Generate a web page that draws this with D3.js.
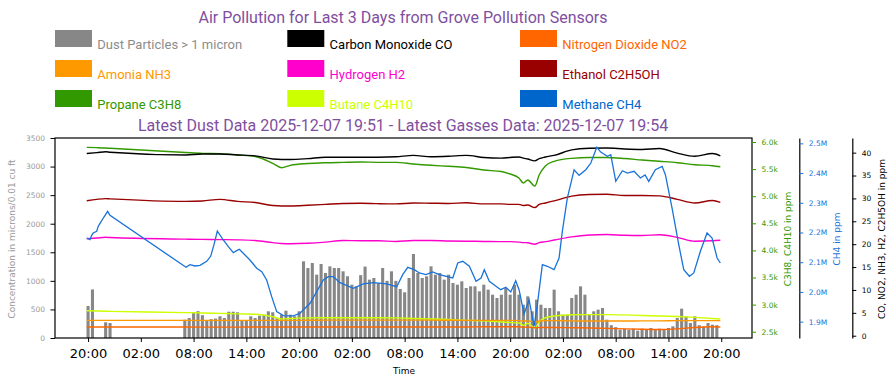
<!DOCTYPE html>
<html>
<head>
<meta charset="utf-8">
<script src="https://cdn.jsdelivr.net/npm/d3@7"></script>
<style>
  body { margin: 0; background: #fff; }
</style>
</head>
<body>
<div id="chart"></div>
<script>

// ---- data ----
// all times are hours after 2025-12-04 20:00
var baseTime = new Date(2025, 11, 4, 20, 0, 0);

var titleText = 'Air Pollution for Last 3 Days from Grove Pollution Sensors';
var subtitleText = 'Latest Dust Data 2025-12-07 19:51 - Latest Gasses Data: 2025-12-07 19:54';

// gas sensor readings (smooth series)
var gasHours = [-0.15, 1, 2, 2.5, 11.1, 13, 15, 17, 19, 21, 22, 23, 25, 27, 29, 31, 33, 35, 37, 39, 41,
                43, 45, 47, 48, 49, 49.5, 50, 50.8, 51.3, 52, 53, 55, 57, 59, 61, 63, 65, 67, 69, 71, 71.9];

var coPpm = [39.8, 40.0, 40.2, 40.1, 39.5, 39.7, 39.7, 39.5, 39.3, 38.6, 38.5, 38.5, 38.7, 39.0, 39.0, 39.0,
             39.0, 39.1, 39.4, 39.1, 39.2, 39.4, 38.95, 38.8, 38.95, 39.05, 38.8, 38.6, 38.2, 38.7, 39.05,
             39.4, 40.6, 40.95, 41.0, 40.8, 40.7, 40.9, 39.9, 39.2, 39.8, 39.3];

var no2Ppm = [1.9, 1.9, 1.9, 1.9, 1.9, 1.88, 1.88, 1.88, 1.9, 1.9, 1.9, 1.9, 1.9, 1.9, 1.9, 1.9,
              1.9, 1.9, 1.9, 1.9, 1.9, 1.9, 1.95, 1.95, 1.95, 1.95, 1.85, 1.9, 1.75, 1.8, 1.8,
              1.8, 1.75, 1.7, 1.6, 1.5, 1.4, 1.35, 1.5, 1.8, 1.95, 1.9];

var nh3Ppm = [3.35, 3.35, 3.35, 3.35, 3.35, 3.35, 3.35, 3.35, 3.35, 3.35, 3.35, 3.35, 3.37, 3.4, 3.4, 3.4,
              3.4, 3.4, 3.4, 3.4, 3.38, 3.35, 3.35, 3.35, 3.35, 3.3, 3.2, 3.25, 3.0, 3.2, 3.3,
              3.3, 3.25, 3.2, 3.2, 3.2, 3.25, 3.25, 3.3, 3.3, 3.3, 3.3];

var h2Ppm = [21.2, 21.35, 21.5, 21.45, 21.1, 21.05, 21.0, 20.95, 20.8, 20.35, 20.15, 20.1, 20.2, 20.45, 20.8, 20.75,
             20.75, 20.6, 20.8, 20.8, 20.7, 20.65, 20.6, 20.55, 20.55, 20.45, 20.35, 20.3, 20.0, 20.35, 20.55,
             20.9, 21.6, 22.0, 22.1, 21.95, 21.9, 22.05, 21.5, 20.65, 20.75, 20.85];

var ethanolPpm = [29.5, 29.8, 29.95, 29.9, 29.35, 29.45, 29.8, 29.35, 29.1, 28.45, 28.35, 28.35, 28.5, 28.7, 28.9, 28.95,
                  28.85, 28.8, 29.0, 28.95, 28.9, 29.05, 28.8, 28.8, 28.7, 28.7, 28.45, 28.55, 28.0, 28.7, 29.0,
                  29.45, 30.5, 30.85, 30.9, 30.65, 30.65, 30.55, 29.8, 29.0, 29.55, 29.15];

var propanePpm = [5902, 5896, 5889, 5884, 5806, 5791, 5784, 5760, 5732, 5607, 5526, 5570, 5603, 5618, 5625, 5631,
                  5625, 5625, 5594, 5570, 5552, 5530, 5483, 5456, 5410, 5336, 5244, 5299, 5188, 5391, 5557,
                  5644, 5699, 5714, 5714, 5696, 5668, 5644, 5618, 5581, 5563, 5544];

var butanePpm = [2887, 2882, 2878, 2876, 2852, 2845, 2838, 2830, 2823, 2775, 2735, 2745, 2755, 2758, 2758, 2758,
                 2758, 2755, 2745, 2735, 2725, 2710, 2700, 2680, 2670, 2660, 2618, 2655, 2563, 2684, 2758,
                 2790, 2812, 2815, 2815, 2810, 2800, 2790, 2780, 2765, 2745, 2735];

// methane is noisy, so it has its own denser readings
var ch4Hours = [-0.16, 0.22, 0.41, 0.59, 0.98, 1.16, 1.73, 2.23, 2.49, 11.14, 11.59, 12.16, 12.73, 13.49, 13.94,
                14.32, 14.7, 15.38, 15.95, 16.52, 16.9, 17.2, 17.65, 18.41, 19.18, 19.75, 20.31, 20.88, 21.45,
                22.2, 23.34, 24.1, 25.24, 26.0, 26.75, 27.32, 27.89, 28.65, 30.16, 31.3, 32.44, 33.96, 35.1,
                35.78, 36.35, 37.1, 37.67, 38.43, 39.19, 39.95, 41.47, 42.04, 42.61, 43.36, 44.12, 44.69, 45.06,
                45.63, 46.39, 46.93, 47.5, 48.07, 48.63, 49.01, 49.58, 50.15, 50.72, 51.09, 51.66, 52.23, 52.99,
                53.56, 53.93, 54.5, 55.27, 55.84, 56.6, 57.17, 57.85, 58.3, 59.05, 59.44, 60.01, 60.76, 61.33,
                62.09, 62.81, 63.34, 63.76, 64.51, 65.28, 65.65, 66.41, 67.17, 67.74, 68.38, 68.88, 69.63, 70.39,
                70.96, 71.53, 71.9];

var ch4Ppm = [2181500, 2175800, 2190600, 2198300, 2204000, 2220800, 2248700, 2271300, 2257800, 2083000, 2091700,
              2087300, 2089700, 2103100, 2119900, 2159000, 2205000, 2174800, 2152200, 2132000, 2138800, 2143500,
              2130000, 2107500, 2079600, 2068200, 2040200, 1984100, 1933600, 1920200, 1919200, 1928200, 1961900,
              2000900, 2040200, 2051300, 2051300, 2031200, 2012300, 2026800, 2031200, 2026800, 2017700, 2058100,
              2082900, 2074900, 2063800, 2058100, 2067100, 2058100, 2047000, 2097400, 2103100, 2086300, 2035900,
              2047000, 2074900, 2035900, 2019000, 2007600, 2015700, 1999900, 2037900, 2007600, 1925900, 1974000,
              1884500, 1957200, 2091700, 2086300, 2074900, 2114200, 2204000, 2316000, 2411200, 2392300, 2411200,
              2433700, 2486500, 2470700, 2456200, 2461600, 2372200, 2407800, 2400100, 2405800, 2383300, 2393400,
              2372200, 2411200, 2422600, 2394400, 2282400, 2159000, 2074900, 2052700, 2063800, 2136800, 2198300,
              2181500, 2114200, 2097400];

// dust particle counts, one every half hour starting 20:00 (null = no reading)
var dustCounts = [
  560, 850, null, null, 275, 262, null, null, null, null,
  null, null, null, null, null, null, null, null, null, null,
  null, null, 320, 350, 450, 470, 400, 300, 330, 340,
  380, 350, 460, 460, 450, 300, 300, 380, 350, 390,
  408, 467, 450, 350, 408, 478, 408, 380, 467, 1342,
  1225, 1312, 1108, 1295, 1138, 1254, 1225, 1225, 1167, 1080,
  933, 904, 1100, 1250, 1021, 1050, 963, 1225, 1000, 1167,
  1000, 858, 800, 1050, 1470, 1138, 1050, 1080, 1254, 1108,
  1138, 1021, 1108, 963, 933, 992, 875, 904, 904, 817,
  933, 846, 758, 700, 758, 875, 758, 933, 758, 583,
  729, 467, 671, 583, 525, 525, 846, 467, 408, 408,
  700, 758, 904, 758, 408, 467, 496, 525, 321, 224,
  190, 146, 163, 146, 163, 128, 163, 146, 175, 146,
  163, 146, 175, 204, 350, 513, 379, 262, 379, 224,
  204, 262, 233, 224
];
var dustStepHours = 0.5;

var xTickHours = [0, 6, 12, 18, 24, 30, 36, 42, 48, 54, 60, 66, 72];
var dustTicks = [0, 500, 1000, 1500, 2000, 2500, 3000, 3500];
var c3Ticks = [2500, 3000, 3500, 4000, 4500, 5000, 5500, 6000];
var ch4Ticks = [1900000, 2000000, 2100000, 2200000, 2300000, 2400000, 2500000];
var gasTicks = [0, 5, 10, 15, 20, 25, 30, 35, 40];

var legendNames = ['Dust Particles > 1 micron', 'Carbon Monoxide CO', 'Nitrogen Dioxide NO2',
                   'Amonia NH3', 'Hydrogen H2', 'Ethanol C2H5OH',
                   'Propane C3H8', 'Butane C4H10', 'Methane CH4'];
var legendColors = ['#878787', '#000000', '#ff6600',
                    '#ff9900', '#ff00cc', '#990000',
                    '#339900', '#ccff00', '#0066cc'];


// ---- drawing ----
function hoursToDate(h){
  return new Date(baseTime.getTime() + h * 3600 * 1000);
}

function draw_chart(){

  var width = 896, height = 385;
  var plot = {left: 55, right: 752, top: 138, bottom: 338};
  var tick_font = 'DejaVu Sans';

  var svg = d3.select('#chart').append('svg')
    .attr('width', width)
    .attr('height', height);

  // scales
  var x = d3.scaleTime()
    .domain([hoursToDate(-3.76), hoursToDate(75.5)])
    .range([plot.left, plot.right]);

  var yDust = d3.scaleLinear().domain([0, 3500]).range([plot.bottom, plot.top]);
  var yC3 = d3.scaleLinear().domain([2384, 6074]).range([plot.bottom, plot.top]);
  var yCh4 = d3.scaleLinear().domain([1845000, 2518000]).range([plot.bottom, plot.top]);
  var yGas = d3.scaleLinear().domain([-0.5, 43.2]).range([plot.bottom, plot.top]);

  // dust bars
  var stepPx = x(hoursToDate(dustStepHours)) - x(hoursToDate(0));
  var barW = stepPx * 0.7;

  svg.append('g').attr('class', 'dust')
    .selectAll('rect')
    .data(dustCounts.map(function(v, i){ return {t: hoursToDate(i * dustStepHours), v: v}; })
                    .filter(function(d){ return d.v !== null; }))
    .enter()
    .append('rect')
    .attr('x', function(d){ return x(d.t) - barW / 2; })
    .attr('y', function(d){ return yDust(d.v); })
    .attr('width', barW)
    .attr('height', function(d){ return yDust(0) - yDust(d.v); })
    .style('fill', '#878787');

  // gas lines
  var gasLines = [
    {values: propanePpm, scale: yC3, color: '#339900'},
    {values: butanePpm, scale: yC3, color: '#ccff00'},
    {values: coPpm, scale: yGas, color: '#000000'},
    {values: ethanolPpm, scale: yGas, color: '#990000'},
    {values: h2Ppm, scale: yGas, color: '#ff00cc'},
    {values: nh3Ppm, scale: yGas, color: '#ff9900'},
    {values: no2Ppm, scale: yGas, color: '#ff6600'}
  ];

  gasLines.forEach(function(s){
    var pts = gasHours.map(function(h, i){ return {t: hoursToDate(h), v: s.values[i]}; });
    var line = d3.line()
      .x(function(d){ return x(d.t); })
      .y(function(d){ return s.scale(d.v); })
      .curve(d3.curveMonotoneX);
    svg.append('path')
      .datum(pts)
      .attr('d', line)
      .style('fill', 'none')
      .style('stroke', s.color)
      .style('stroke-width', 1.4);
  });

  // methane line
  var ch4Pts = ch4Hours.map(function(h, i){ return {t: hoursToDate(h), v: ch4Ppm[i]}; });
  svg.append('path')
    .datum(ch4Pts)
    .attr('d', d3.line()
      .x(function(d){ return x(d.t); })
      .y(function(d){ return yCh4(d.v); }))
    .style('fill', 'none')
    .style('stroke', '#1a73d9')
    .style('stroke-width', 1.3);

  // plot frame
  svg.append('rect')
    .attr('x', plot.left)
    .attr('y', plot.top)
    .attr('width', plot.right - plot.left)
    .attr('height', plot.bottom - plot.top)
    .style('fill', 'none')
    .style('stroke', '#000')
    .style('stroke-width', 1.2);

  // x axis
  var xAxis = svg.append('g')
    .attr('transform', 'translate(0,' + plot.bottom + ')')
    .call(d3.axisBottom(x)
      .tickValues(xTickHours.map(hoursToDate))
      .tickFormat(d3.timeFormat('%H:%M'))
      .tickSize(4)
      .tickPadding(7)
      .tickSizeOuter(0));
  xAxis.select('.domain').remove();
  xAxis.selectAll('text')
    .attr('font-family', tick_font)
    .attr('font-size', '13px')
    .style('fill', '#000');

  svg.append('text')
    .text('Time')
    .attr('x', 404)
    .attr('y', 374)
    .attr('text-anchor', 'middle')
    .attr('font-family', tick_font)
    .attr('font-size', '9px')
    .style('fill', '#000');

  // left (dust) axis
  var leftAxis = svg.append('g')
    .attr('transform', 'translate(' + plot.left + ',0)')
    .call(d3.axisLeft(yDust).tickValues(dustTicks).tickFormat(d3.format('d'))
      .tickSize(4.5).tickPadding(5.5).tickSizeOuter(0));
  leftAxis.select('.domain').remove();
  leftAxis.selectAll('text')
    .attr('font-family', tick_font)
    .attr('font-size', '7.5px')
    .style('fill', '#999');

  // right axes
  function right_axis(xpos, scale, ticks, fmt, color, keepDomain){
    var g = svg.append('g')
      .attr('transform', 'translate(' + xpos + ',0)')
      .call(d3.axisRight(scale).tickValues(ticks).tickFormat(fmt)
        .tickSize(4).tickPadding(5.5).tickSizeOuter(0));
    if(keepDomain){
      g.select('.domain').style('stroke', '#000').style('stroke-width', 1.2);
    }else{
      g.select('.domain').remove();
    }
    g.selectAll('.tick line').style('stroke', color);
    g.selectAll('text')
      .attr('font-family', tick_font)
      .attr('font-size', '7.5px')
      .style('fill', color);
  }

  right_axis(plot.right, yC3, c3Ticks, function(v){ return (v / 1000).toFixed(1) + 'k'; }, '#339900', false);
  right_axis(799.3, yCh4, ch4Ticks, function(v){ return (v / 1e6).toFixed(1) + 'M'; }, '#1a73d9', true);
  right_axis(852.3, yGas, gasTicks, function(v){ return v; }, '#000', true);

  // axis labels
  var axisLabels = [
    {text: 'Concentration in microns/0.01 cu ft', x: 12, color: '#999'},
    {text: 'C3H8, C4H10 in ppm', x: 787.7, color: '#339900'},
    {text: 'CH4 in ppm', x: 836.7, color: '#1a73d9'},
    {text: 'CO, NO2, NH3, H2, C2H5OH in ppm', x: 881.7, color: '#000'}
  ];
  axisLabels.forEach(function(l){
    svg.append('text')
      .text(l.text)
      .attr('transform', 'translate(' + l.x + ',239) rotate(-90)')
      .attr('dy', '0.35em')
      .attr('text-anchor', 'middle')
      .attr('font-family', tick_font)
      .attr('font-size', '9px')
      .style('fill', l.color);
  });

  // title + subtitle
  svg.append('text')
    .text(titleText)
    .attr('x', 403)
    .attr('y', 22.5)
    .attr('text-anchor', 'middle')
    .attr('font-family', 'Roboto')
    .attr('font-size', '16px')
    .style('fill', '#7f4f9f');

  svg.append('text')
    .text(subtitleText)
    .attr('x', 403)
    .attr('y', 130.5)
    .attr('text-anchor', 'middle')
    .attr('font-family', 'Roboto')
    .attr('font-size', '16px')
    .style('fill', '#7f4f9f');

  // legend, 3 columns x 3 rows
  var colX = [55, 287.3, 520];
  var rowY = [30, 60, 90];
  var legend = svg.append('g').attr('class', 'legend');

  legendNames.forEach(function(name, i){
    var cx = colX[i % 3], cy = rowY[Math.floor(i / 3)];
    legend.append('rect')
      .attr('x', cx)
      .attr('y', cy)
      .attr('width', 37)
      .attr('height', 17)
      .style('fill', legendColors[i]);
    legend.append('text')
      .text(name)
      .attr('x', cx + 42.3)
      .attr('y', cy + 18.7)
      .attr('font-family', 'Roboto')
      .attr('font-size', '13px')
      .style('fill', i == 0 ? '#8c8c8c' : legendColors[i]);
  });
}

draw_chart();

</script>
</body>
</html>
